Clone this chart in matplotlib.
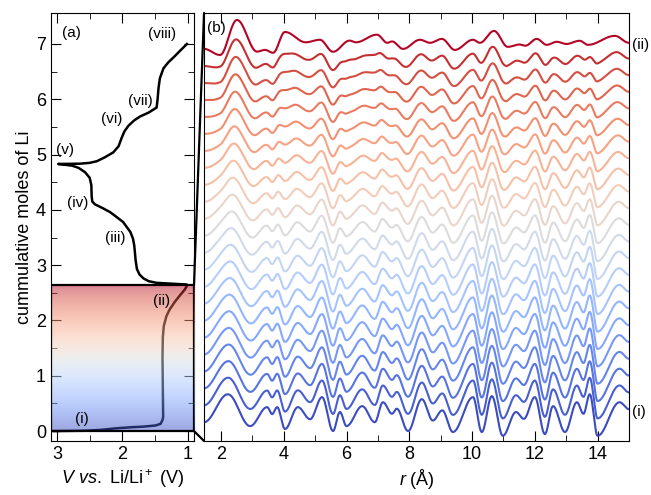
import numpy as np
import matplotlib
matplotlib.use('Agg')
import matplotlib.pyplot as plt
from matplotlib.patches import Rectangle, ConnectionPatch

plt.rcParams['font.family'] = ['Liberation Sans', 'DejaVu Sans']
plt.rcParams['mathtext.fontset'] = 'custom'
plt.rcParams['mathtext.rm'] = 'Liberation Sans'
plt.rcParams['mathtext.it'] = 'Liberation Sans:italic'

# discharge curve, voltage vs cumulative Li, from (i) to (viii)
volts = [3.05, 2.6, 2.34, 2.09, 1.85, 1.68, 1.5, 1.42, 1.39, 1.38, 1.385, 1.39,
         1.385, 1.37, 1.33, 1.28, 1.2, 1.12, 1.05, 1.02,
         1.02, 1.25, 1.48, 1.6, 1.68, 1.74, 1.78, 1.80, 1.82, 1.84, 1.88, 1.99,
         2.1, 2.19, 2.3, 2.42, 2.46, 2.47, 2.475, 2.5, 2.57, 2.67, 2.77, 2.98,
         2.65, 2.5, 2.39, 2.27, 2.14, 2.06, 2.01, 1.97, 1.91, 1.82, 1.73, 1.6,
         1.48, 1.465, 1.45, 1.43, 1.375, 1.3, 1.22, 1.12, 1.018]
moles = [0.0, 0.005, 0.02, 0.05, 0.07, 0.08, 0.1, 0.13, 0.2, 0.26, 0.74, 1.34,
         1.7, 1.9, 2.08, 2.2, 2.34, 2.46, 2.56, 2.62,
         2.65, 2.665, 2.68, 2.71, 2.76, 2.83, 2.93, 3.09, 3.35, 3.48, 3.6, 3.78,
         3.88, 3.96, 4.03, 4.10, 4.15, 4.25, 4.45, 4.58, 4.68, 4.76, 4.80, 4.83,
         4.835, 4.85, 4.88, 4.95, 5.04, 5.15, 5.31, 5.42, 5.52, 5.62, 5.69, 5.76,
         5.85, 6.0, 6.21, 6.38, 6.56, 6.67, 6.76, 6.88, 7.0]
li_end = 2.64

stage_labels = ['(i)', '(ii)', '(iii)', '(iv)', '(v)', '(vi)', '(vii)', '(viii)']
stage_v = [2.62, 1.40, 2.11, 2.69, 2.88, 2.16, 1.73, 1.40]
stage_m = [0.22, 2.36, 3.50, 4.12, 5.08, 5.65, 5.97, 7.18]

# PDF extrema for state (i) (bottom) and state (ii) (top)
r_i = [1.46, 2.22, 2.93, 3.47, 3.63, 3.79, 4.04, 4.45, 4.84, 5.22, 5.57, 5.79,
       6.0, 6.5, 6.9, 7.16, 7.45, 7.6, 7.96, 8.4, 8.75, 9.05, 9.39, 10.03, 10.31,
       10.63, 10.98, 11.4, 11.65, 12.0, 12.32, 12.58, 12.96, 13.34, 13.55, 13.75,
       14.0, 14.7, 15.0]
g_i = [-0.3, 1.35, -0.53, 0.59, 0.18, 0.59, -0.7, 0.59, -0.12, 1.18, -0.82, 0.3,
       -0.53, 0.65, -0.3, 0.88, 0.2, 0.5, -0.82, 1.06, -0.2, 0.4, -0.88, 1.18, -0.88,
       1.24, -1.1, 0.3, -0.1, 1.18, -1.0, 0.65, -0.88, 0.88, 0.2, 1.35,
       -1.1, 0.88, 0.47]
r_ii = [1.46, 1.97, 2.51, 3.15, 3.4, 3.66, 4.04, 4.7, 5.15, 5.57, 6.1, 6.3, 6.97,
        7.3, 7.45, 7.8, 8.34, 8.66, 9.04, 9.45, 10.03, 10.25, 10.7, 11.14, 11.5,
        11.7, 12.06, 12.38, 12.7, 13.0, 13.43, 13.69, 14.55, 15.0]
g_ii = [-0.24, -0.6, 1.47, -0.4, -0.3, -0.47, 0.76, 0.15, 0.3, -0.41, 0.25, 0.15, 0.6,
        0.12, 0.2, -0.24, 0.3, 0.12, 0.35, -0.3, 0.3, 0.12, 0.82, -0.12, 0.02,
        -0.05, 0.35, 0.0, 0.18, 0.05, 0.24, 0.0, 0.53, 0.12]

# fraction of state (ii) in each trace, bottom to top
mix = [0.0, 0.02, 0.04, 0.06, 0.08, 0.1, 0.12, 0.15, 0.18, 0.21, 0.25, 0.3,
       0.35, 0.4, 0.45, 0.5, 0.55, 0.6, 0.65, 0.7, 0.75, 0.8, 1.0]


def trace(rk, gk, r):
    rk = np.asarray(rk)
    gk = np.asarray(gk)
    i = np.clip(np.searchsorted(rk, r) - 1, 0, len(rk) - 2)
    t = (r - rk[i]) / (rk[i + 1] - rk[i])
    s = (1 - np.cos(np.pi * t)) / 2
    return gk[i] + (gk[i + 1] - gk[i]) * s


fig = plt.figure(figsize=(6.51, 4.95), dpi=100)
ax1 = fig.add_axes([0.0783, 0.1091, 0.2197, 0.8646])
ax2 = fig.add_axes([0.3134, 0.1091, 0.6528, 0.8646])

# (a) voltage profile
xl = (3.09, 0.91)
ax1.plot(volts, moles, color='black', lw=1.8, zorder=2, solid_joinstyle='round')
grad = np.linspace(0, 1, 256).reshape(-1, 1)
ax1.imshow(grad, extent=[xl[0], xl[1], 0, li_end], origin='lower', aspect='auto',
           cmap='coolwarm', alpha=0.5, zorder=3)
ax1.add_patch(Rectangle((xl[1], 0), xl[0] - xl[1], li_end, fill=False,
                        edgecolor='black', lw=1.6, zorder=4))
ax1.set_xlim(*xl)
ax1.set_ylim(-0.18, 7.56)
ax1.set_xticks([3, 2, 1])
ax1.set_xticks([2.5, 1.5], minor=True)
ax1.set_yticks(range(8))
ax1.set_yticks(np.arange(0.5, 7.5, 1.0), minor=True)
ax1.tick_params(which='both', direction='in', top=True, right=True, labelsize=13)
ax1.tick_params(which='major', length=7)
ax1.tick_params(which='minor', length=4)
ax1.set_ylabel('cummulative moles of Li', fontsize=13, labelpad=2)
ax1.set_xlabel(r'$V$ $vs.$ Li/Li$^+$ (V)', fontsize=13, labelpad=3)
for lab, v, m in zip(stage_labels, stage_v, stage_m):
    ax1.text(v, m, lab, fontsize=11, ha='center', va='center', zorder=5)
ax1.text(2.92, 7.2, '(a)', fontsize=11, ha='left', va='center')

# (b) PDFs, offset bottom to top
r = np.linspace(1.46, 15.0, 1400)
cmap = plt.get_cmap('coolwarm')
n = len(mix)
for k, w in enumerate(mix):
    g = (1 - w) * trace(r_i, g_i, r) + w * trace(r_ii, g_ii, r)
    ax2.plot(r, g + k, color=cmap(k / (n - 1)), lw=1.5)
ax2.set_xlim(1.46, 15.0)
ax2.set_ylim(-1.41, n - 1 + 1.88)
ax2.set_xticks(range(2, 15, 2))
ax2.set_xticks(range(3, 15, 2), minor=True)
ax2.set_yticks([])
ax2.tick_params(which='both', direction='in', top=True, labelsize=13)
ax2.tick_params(which='major', length=7)
ax2.tick_params(which='minor', length=4)
ax2.set_xlabel(r'$r$ (Å)', fontsize=13, labelpad=3)
ax2.text(0.007, 0.965, '(b)', transform=ax2.transAxes, fontsize=11, va='center')
ax2.text(1.006, n - 1, '(ii)', transform=ax2.get_yaxis_transform(), fontsize=11,
         va='center', clip_on=False)
ax2.text(1.006, 0.3, '(i)', transform=ax2.get_yaxis_transform(), fontsize=11,
         va='center', clip_on=False)

# zoom lines from the shaded Li range to panel (b)
for ya, yb in [(li_end, 1), (0, 0)]:
    con = ConnectionPatch(xyA=(xl[1], ya), coordsA='data', axesA=ax1,
                          xyB=(0, yb), coordsB='axes fraction', axesB=ax2,
                          color='black', lw=1.6)
    fig.add_artist(con)

fig.savefig('out.png', dpi=100)
